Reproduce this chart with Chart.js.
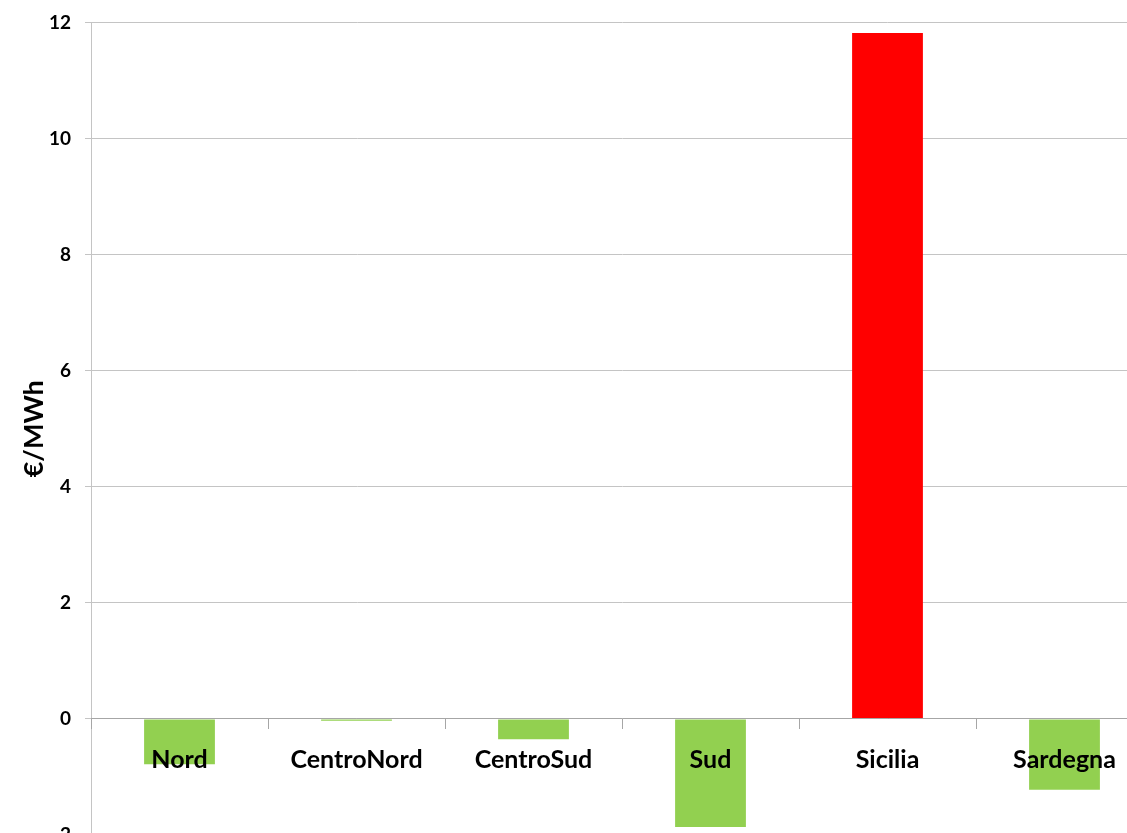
<!DOCTYPE html>
<html>
<head>
<meta charset="utf-8">
<script src="https://cdn.jsdelivr.net/npm/chart.js@4"></script>
<style>
html,body{margin:0;padding:0;overflow:hidden;background:#fff;width:1127px;height:833px;}
#wrap{position:absolute;left:0;top:0;width:1160px;height:860px;}
</style>
</head>
<body>
<div id="wrap"><canvas id="c"></canvas></div>
<script>
const categories = ["Nord", "CentroNord", "CentroSud", "Sud", "Sicilia", "Sardegna"];
const values = [-0.78, -0.03, -0.35, -1.86, 11.82, -1.22];
const barColors = ["#92D050", "#92D050", "#92D050", "#92D050", "#FF0000", "#92D050"];
const yTitle = "€/MWh";
const yMin = -2, yMax = 12, yStep = 2;

const FONT = "Lato, 'Open Sans', 'DejaVu Sans', sans-serif";

new Chart(document.getElementById('c'), {
  type: 'bar',
  data: {
    labels: categories,
    datasets: [{
      data: values,
      backgroundColor: barColors,
      borderWidth: 0,
      categoryPercentage: 1.0,
      barPercentage: 0.4
    }]
  },
  options: {
    responsive: true,
    maintainAspectRatio: false,
    animation: false,
    layout: { padding: { top: 22.5, bottom: 25, right: 7, left: 0 } },
    plugins: { legend: { display: false }, tooltip: { enabled: false } },
    scales: {
      x: {
        position: { y: 0 },
        afterFit: (s) => { s.paddingLeft = 0; s.paddingRight = 0; },
        grid: { display: true, drawOnChartArea: false, drawTicks: true, tickLength: 10, color: '#a6a6a6', offset: true, z: 1 },
        border: { display: true, color: '#a6a6a6', width: 1, z: 1 },
        ticks: { z: 1, color: '#000', padding: 16, font: { family: FONT, size: 25, weight: 'bold' }, maxRotation: 0, autoSkip: false }
      },
      y: {
        min: yMin, max: yMax,
        afterFit: (s) => { s.width = 91; s.paddingTop = 0; s.paddingBottom = 0; },
        grid: { color: '#c4c4c4', tickLength: 6, lineWidth: 1 },
        border: { display: true, color: '#c4c4c4' },
        ticks: { stepSize: yStep, color: '#000', padding: 14, font: { family: FONT, size: 19, weight: 'bold' } },
        title: { display: true, text: yTitle, color: '#000', font: { family: FONT, size: 27, weight: 'bold' }, padding: { top: 18, bottom: 0 } }
      }
    }
  }
});
</script>
</body>
</html>
